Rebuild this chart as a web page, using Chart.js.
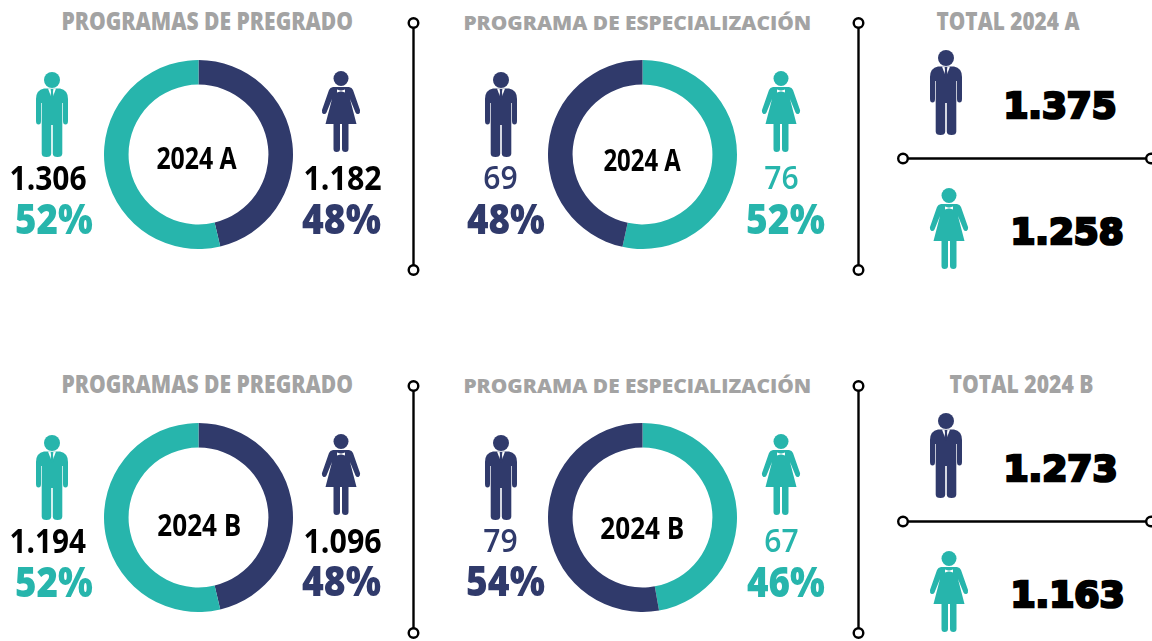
<!DOCTYPE html>
<html><head><meta charset="utf-8">
<script src="https://cdn.jsdelivr.net/npm/chart.js@4"></script>
<style>
html,body{margin:0;padding:0;background:#fff;width:1152px;height:641px;overflow:hidden}
#stage{position:relative;width:1152px;height:641px;overflow:hidden}
canvas,svg.abs{position:absolute}
.t{position:absolute;left:0;top:0;white-space:nowrap;transform-origin:0 0}
</style></head><body><div id="stage"></div>
<script>
const TEAL='#27B5AC', NAVY='#303A6B', GRAY='#A3A3A3';
const periods=['2024 A','2024 B'];
// Arc shares as drawn in the picture (%), read from the ring boundaries
const pregradoArcMujeres=[46.3,46.3];
const pregradoArcHombres=[53.7,53.7];
const especArcMujeres=[53.4,47.2];
const especArcHombres=[46.6,52.8];
const pregradoHombresLabel=['1.306','1.194'];
const pregradoMujeresLabel=['1.182','1.096'];
const especHombresLabel=['69','79'];
const especMujeresLabel=['76','67'];
const pregradoHombresPct=['52%','52%'];
const pregradoMujeresPct=['48%','48%'];
const especHombresPct=['48%','54%'];
const especMujeresPct=['52%','46%'];
const totalHombres=['1.375','1.273'];
const totalMujeres=['1.258','1.163'];
const titlePregrado='PROGRAMAS DE PREGRADO';
const titleEspec='PROGRAMA DE ESPECIALIZACIÓN';

const stage=document.getElementById('stage');
const mc=document.createElement('canvas').getContext('2d');
const COND='"Open Sans",sans-serif';
const HEAVY='"DejaVu Sans",sans-serif';

function fit(text,x0,x1,y0,y1,color,opts={}){
  const family=opts.family||COND, weight=opts.weight||'700', size=40;
  const d=document.createElement('div');d.className='t';d.textContent=text;
  d.style.font=`${weight} ${size}px/${size*0.8}px ${family}`;d.style.color=color;
  if(opts.stroke){d.style.webkitTextStroke=opts.stroke+'px '+color;}
  const probe=document.createElement('span');
  probe.style.cssText='display:inline-block;width:0;height:0';
  d.appendChild(probe);stage.appendChild(d);
  const base=probe.getBoundingClientRect().top-d.getBoundingClientRect().top;
  d.removeChild(probe);
  mc.font=`${weight} ${size}px ${family}`;
  const m=mc.measureText(text);
  const inkL=-m.actualBoundingBoxLeft, inkR=m.actualBoundingBoxRight;
  const inkT=base-m.actualBoundingBoxAscent, inkB=base+m.actualBoundingBoxDescent;
  const sx=(x1-x0)/(inkR-inkL), sy=(y1-y0)/(inkB-inkT);
  d.style.transform=`translate(${x0-inkL*sx}px,${y0-inkT*sy}px) scale(${sx},${sy})`;
}
function ctext(text,x0,x1,cy,h,color,opts){fit(text,x0,x1,cy-h/2,cy+h/2,color,opts);}

function svg(x,y,w,h,inner){
  const s=document.createElementNS('http://www.w3.org/2000/svg','svg');
  s.setAttribute('class','abs');s.setAttribute('width',w);s.setAttribute('height',h);
  s.setAttribute('viewBox',`0 0 ${w} ${h}`);s.style.left=x+'px';s.style.top=y+'px';
  s.innerHTML=inner;stage.appendChild(s);
}
function man(cx,top,c){
  svg(cx-17,top,34,86,`<g transform="translate(17,0)" fill="${c}">
  <circle cx="0" cy="8" r="8"/>
  <path d="M-8,16.5 L8,16.5 Q16,18 16,27 L16,49 Q16,52.5 13.5,52.5 Q11,52.5 11,49 L11,31 L10.3,31 L10.3,81.5 Q10.3,85 5.5,85 Q0.8,85 0.8,81.5 L0.8,53 L-0.8,53 L-0.8,81.5 Q-0.8,85 -5.5,85 Q-10.3,85 -10.3,81.5 L-10.3,31 L-11,31 L-11,49 Q-11,52.5 -13.5,52.5 Q-16,52.5 -16,49 L-16,27 Q-16,18 -8,16.5Z"/>
  <path d="M-4,16.5 L4,16.5 L0,27Z" fill="#fff"/>
  <path d="M-1.4,17 L1.4,17 L1,20 L1.6,26 L0,28 L-1.6,26 L-1,20Z" fill="${c}"/>
  </g>`);
}
function woman(cx,top,c){
  svg(cx-20,top,40,82,`<g transform="translate(20,0)" fill="${c}">
  <circle cx="0" cy="7.5" r="7.5"/>
  <path d="M-8,16 L8,16 Q11,16.5 12,19 L19,39 Q19.5,42 17.5,43 Q15.5,43.5 14.5,41.5 L9,28 L15.5,53 L7.5,53 L7.5,78 Q7.5,81 4.5,81 Q1,81 1,78 L1,53 L-1,53 L-1,78 Q-1,81 -4.5,81 Q-7.5,81 -7.5,78 L-7.5,53 L-15.5,53 L-9,28 L-14.5,41.5 Q-15.5,43.5 -17.5,43 Q-19.5,42 -19,39 L-12,19 Q-11,16.5 -8,16Z"/>
  <path d="M-4,18.5 L-0.8,19.6 L0.8,19.6 L4,18.5 L4,21.5 L0.8,20.6 L-0.8,20.6 L-4,21.5Z" fill="#fff"/>
  </g>`);
}
function donut(cx,cy,first,second,c1,c2){
  const size=189, cv=document.createElement('canvas');
  cv.width=size;cv.height=size;cv.style.width=size+'px';cv.style.height=size+'px';
  cv.style.left=(cx-size/2)+'px';cv.style.top=(cy-size/2)+'px';stage.appendChild(cv);
  new Chart(cv,{type:'doughnut',data:{labels:['a','b'],datasets:[{data:[first,second],backgroundColor:[c1,c2],borderWidth:0,hoverOffset:0}]},
    options:{responsive:false,animation:false,cutout:'74%',layout:{padding:0},plugins:{legend:{display:false},tooltip:{enabled:false}}}});
}
function connectors(y){
  const ring=(x,yy)=>`<circle cx="${x}" cy="${yy}" r="4.8" fill="#fff" stroke="#000" stroke-width="2.4"/>`;
  svg(0,y,1152,278,`
   <line x1="413.5" y1="23" x2="413.5" y2="270" stroke="#000" stroke-width="2.4"/>${ring(413.5,23)}${ring(413.5,270)}
   <line x1="858.5" y1="23" x2="858.5" y2="270" stroke="#000" stroke-width="2.4"/>${ring(858.5,23)}${ring(858.5,270)}
   <line x1="903" y1="158.5" x2="1152" y2="158.5" stroke="#000" stroke-width="2.4"/>${ring(903,158.5)}${ring(1151,158.5)}`);
}
periods.forEach((p,i)=>{
  const dy=i*363;
  connectors(dy);
  ctext(titlePregrado,63,352,21+dy,18,GRAY,{weight:'800'});
  ctext(titleEspec,465,810,21+dy,18,GRAY,{weight:'800'});
  const tot='TOTAL '+p;
  ctext(tot,i?950:937,i?1093:1080,21+dy,18,GRAY,{weight:'800'});

  donut(198.5,154.5+dy,pregradoArcMujeres[i],pregradoArcHombres[i],NAVY,TEAL);
  donut(642,154.5+dy,especArcMujeres[i],especArcHombres[i],TEAL,NAVY);
  ctext(p,i?158:157,i?240:237,(i?525:158),21,'#000');
  ctext(p,i?601:604,i?683:681,(i?528:160),21,'#000');

  man(52,72+dy,TEAL); woman(341,71+dy,NAVY);
  man(501,72+dy,NAVY); woman(781,71+dy,TEAL);
  man(946,50+dy,NAVY); woman(949,188+dy,TEAL);

  ctext(pregradoHombresLabel[i],11,86,178+dy,24,'#000',{weight:'700'});
  ctext(pregradoMujeresLabel[i],305,381,178+dy,24,'#000',{weight:'700'});
  ctext(pregradoHombresPct[i],16,93,218+dy,31,TEAL,{weight:'800'});
  ctext(pregradoMujeresPct[i],302,381,218+dy,31,NAVY,{weight:'800'});
  ctext(especHombresLabel[i],484,517,177+dy,24,NAVY,{weight:'600'});
  ctext(especMujeresLabel[i],765,798,177+dy,24,TEAL,{weight:'600'});
  ctext(especHombresPct[i],467,545,218+dy,31,NAVY,{weight:'800'});
  ctext(especMujeresPct[i],747,825,218+dy,31,TEAL,{weight:'800'});
  const hv={family:HEAVY,weight:'700',stroke:3};
  ctext(totalHombres[i],1007,1115,104.5+dy,29,'#000',hv);
  ctext(totalMujeres[i],1014,1122,230.5+dy,29,'#000',hv);
});
</script></body></html>
